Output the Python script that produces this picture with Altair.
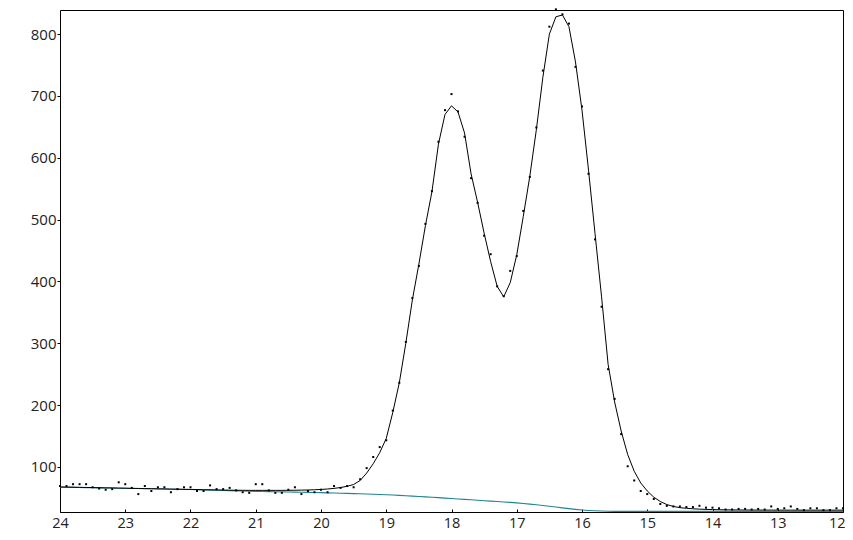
import altair as alt
import pandas as pd

# x grid: 24.0 down to 12.0 in steps of 0.1
x_vals = [round(24.0 - 0.1 * i, 1) for i in range(121)]

# observed points (black dots)
obs = [
    69, 69, 72, 72, 72, 67, 65, 63, 64, 75,            # 24.0 - 23.1
    72, 66, 56, 69, 61, 67, 67, 59, 64, 67,            # 23.0 - 22.1
    67, 61, 61, 70, 64, 64, 66, 62, 59, 58,            # 22.0 - 21.1
    72, 72, 62, 58, 58, 63, 67, 56, 61, 59,            # 21.0 - 20.1
    63, 59, 69, 66, 69, 67, 80, 98, 116, 132,          # 20.0 - 19.1
    143, 191, 236, 302, 373, 425, 493, 546, 626, 677,  # 19.0 - 18.1
    703, 675, 634, 567, 527, 474, 444, 392, 376, 417,  # 18.0 - 17.1
    441, 514, 569, 649, 741, 812, 840, 832, 817, 747,  # 17.0 - 16.1
    683, 574, 468, 359, 258, 210, 153, 101, 78, 61,    # 16.0 - 15.1
    56, 48, 40, 37, 36, 36, 35, 35, 37, 34,            # 15.0 - 14.1
    34, 33, 31, 31, 32, 32, 31, 32, 31, 36,            # 14.0 - 13.1
    32, 33, 36, 32, 30, 33, 33, 30, 30, 33,            # 13.0 - 12.1
    33,                                                # 12.0
]

# fitted curve (black line)
fit = [
    67.5, 67.3, 67.1, 66.9, 66.7, 66.5, 66.3, 66.1, 65.9, 65.7,
    65.5, 65.3, 65.1, 64.9, 64.7, 64.5, 64.3, 64.1, 63.9, 63.7,
    63.5, 63.3, 63.1, 62.9, 62.7, 62.5, 62.3, 62.2, 62.1, 62.0,
    62.0, 62.0, 62.0, 62.0, 62.0, 62.1, 62.2, 62.4, 62.6, 63.0,
    63.5, 64.2, 65.2, 66.6, 68.5, 71.5, 78, 90, 105, 123,
    146, 188, 236, 300, 370, 428, 490, 545, 622, 670,
    684, 674, 640, 574, 528, 478, 432, 392, 375, 398,
    443, 505, 570, 645, 730, 800, 828, 831, 812, 755,
    677, 580, 477, 375, 266, 205, 158, 120, 93, 74,
    61, 51, 44, 39, 36, 34, 33, 32.2, 31.6, 31.2,
    30.9, 30.7, 30.5, 30.4, 30.3, 30.2, 30.2, 30.1, 30.1, 30.1,
    30.0, 30.0, 30.0, 30.0, 30.0, 30.0, 30.0, 30.0, 30.0, 30.0,
    30.0,
]

# baseline (teal line)
base = [
    67.3, 67.1, 66.9, 66.7, 66.5, 66.3, 66.1, 65.9, 65.7, 65.5,
    65.3, 65.1, 64.9, 64.7, 64.5, 64.3, 64.1, 63.9, 63.7, 63.5,
    63.3, 63.0, 62.7, 62.4, 62.1, 61.8, 61.5, 61.2, 60.9, 60.6,
    60.3, 60.1, 59.9, 59.7, 59.5, 59.3, 59.1, 58.9, 58.7, 58.5,
    58.3, 58.0, 57.7, 57.4, 57.1, 56.8, 56.5, 56.1, 55.7, 55.3,
    54.9, 54.4, 53.9, 53.3, 52.7, 52.1, 51.5, 50.9, 50.2, 49.5,
    48.8, 48.1, 47.4, 46.7, 46.0, 45.3, 44.6, 43.9, 43.2, 42.5,
    41.7, 40.8, 39.8, 38.7, 37.5, 36.3, 35.0, 33.7, 32.5, 31.3,
    30.3, 29.5, 28.9, 28.5, 28.2, 28.0, 28.0, 28.0, 28.0, 28.0,
    28.0, 28.0, 28.0, 28.0, 28.0, 28.0, 28.0, 28.0, 28.0, 28.0,
    28.0, 28.0, 28.0, 28.0, 28.0, 28.0, 28.0, 28.0, 28.0, 28.0,
    28.0, 28.0, 28.0, 28.0, 28.0, 28.0, 28.0, 28.0, 28.0, 28.0,
    28.0,
]

x_ticks = list(range(12, 25))
y_ticks = [100, 200, 300, 400, 500, 600, 700, 800]

df = pd.DataFrame({"x": x_vals, "obs": obs, "fit": fit, "base": base})

FONT = "Open Sans"
TXT = "#222222"

xscale = alt.Scale(domain=[12, 24], reverse=True, nice=False, zero=False)
yscale = alt.Scale(domain=[27, 839], nice=False, zero=False)

xaxis = alt.Axis(values=x_ticks, title=None, grid=False, domain=False,
                 ticks=True, tickSize=3, tickColor="black", offset=-3,
                 labelPadding=4, labelFont=FONT, labelFontSize=14.5,
                 labelColor=TXT, format="d", labelFlush=False,
                 labelAlign={"expr": "datum.value == 12 ? 'right' : 'center'"},
                 labelOffset={"expr": "datum.value == 12 ? 2 : 0"})
yaxis = alt.Axis(values=y_ticks, title=None, grid=False, domain=False,
                 ticks=True, tickSize=3, tickColor="black",
                 labelPadding=1, labelFont=FONT, labelFontSize=15,
                 labelColor=TXT, format="d")

base_enc = alt.Chart(df)

teal = base_enc.mark_line(color="#1f8590", strokeWidth=1.1).encode(
    x=alt.X("x:Q", scale=xscale, axis=xaxis),
    y=alt.Y("base:Q", scale=yscale, axis=yaxis),
)
fitline = base_enc.mark_line(color="black", strokeWidth=1).encode(
    x=alt.X("x:Q", scale=xscale),
    y=alt.Y("fit:Q", scale=yscale),
)
dots = base_enc.mark_square(color="black", size=4, opacity=1).encode(
    x=alt.X("x:Q", scale=xscale),
    y=alt.Y("obs:Q", scale=yscale),
)

chart = alt.layer(teal, fitline, dots).properties(
    width=783, height=502,
    background="white",
    autosize=alt.AutoSizeParams(type="none"),
    padding={"left": 52, "top": 2, "right": 2, "bottom": 20},
).configure_view(stroke="black", strokeWidth=1)

chart.save("out.html", embed_options={"renderer": "svg", "actions": False})
